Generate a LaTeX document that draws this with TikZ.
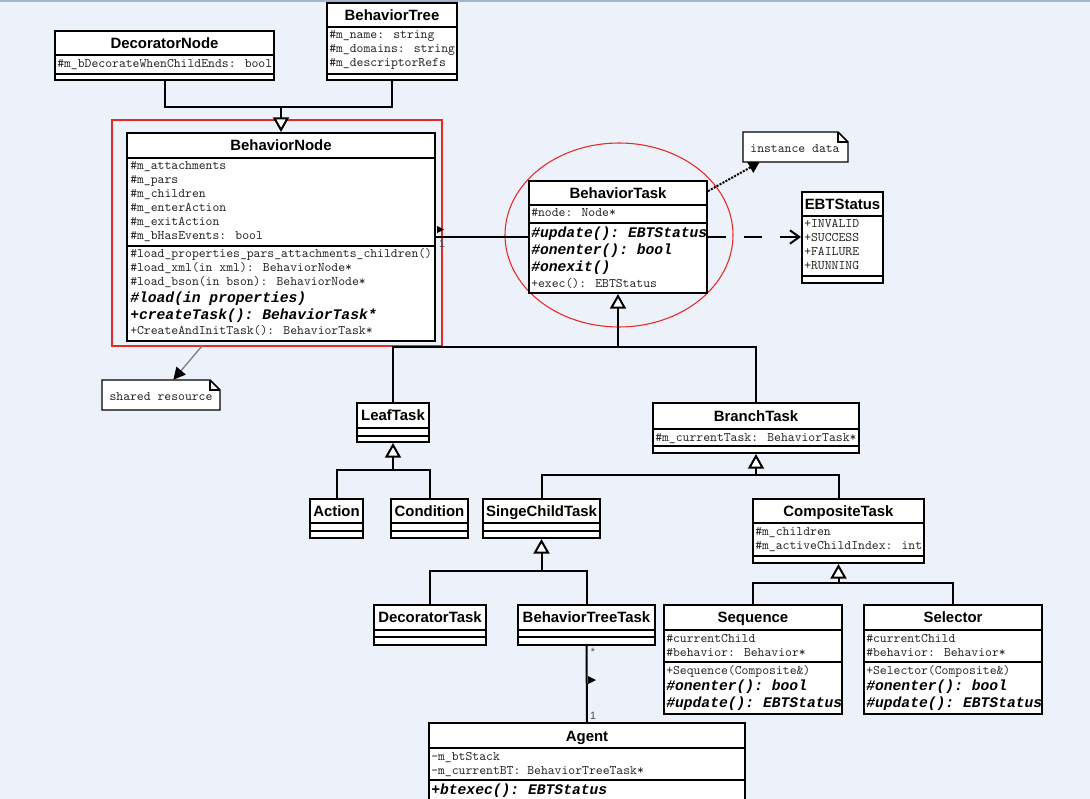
\documentclass[tikz,border=0pt]{standalone}
\usepackage{fontspec}
\setmainfont{Liberation Sans}
\setmonofont{Liberation Mono}
\newfontfamily\courfont{Latin Modern Mono}
\usetikzlibrary{arrows.meta,fit,shapes.geometric}
\definecolor{bgc}{RGB}{237,241,249}
\definecolor{topc}{RGB}{165,180,205}
\definecolor{redc}{RGB}{232,40,40}
\tikzset{
  cls/.style={draw=black, line width=1.5pt, fill=white, inner sep=0pt},
  sepl/.style={line width=1.5pt},
  ttl/.style={font=\bfseries\fontsize{11.2}{13}\selectfont, text height=8pt, text depth=0pt, inner sep=0pt, anchor=center},
  att/.style={font=\courfont\fontsize{9.8}{11}\selectfont, text height=5.6pt, text depth=0pt, inner sep=0pt, anchor=west, text=black!85},
  absm/.style={font=\ttfamily\bfseries\itshape\fontsize{11}{13}\selectfont, text height=6.6pt, text depth=0pt, inner sep=0pt, anchor=west},
  conn/.style={line width=1.5pt},
  gen/.style={conn, -{Triangle[length=11pt,width=12pt,fill=white]}},
  notebox/.style={draw=black, fill=white, line width=1.1pt},
  mult/.style={font=\fontsize{8}{9}\selectfont, text=black!70, inner sep=0pt},
}
\begin{document}
\begin{tikzpicture}[x=0.75pt,y=-0.75pt]
\useasboundingbox (0,0) rectangle (1090,799);
\clip (0,0) rectangle (1090,799);
\fill[bgc] (0,0) rectangle (1090,799);
\draw[topc, line width=1.5pt] (0,0.8) -- (1090,0.8);

% red highlights
\node[draw=redc, line width=0.8pt, inner sep=0pt, fit={(112,120) (442,346)}] (hl) {};
\node[draw=redc, line width=0.8pt, ellipse, inner sep=0pt, minimum width=171pt, minimum height=138pt] (hlt) at (619,235) {};

% DecoratorNode
\node[cls, fit={(55,31) (274,80)}] (dn) {};
\draw[sepl] (55,55) -- (274,55) (55,74) -- (274,74);
\node[ttl] (dn-t) at (164.5,43) {DecoratorNode};
\node[att] (dn-a1) at (57,64) {\#m\_bDecorateWhenChildEnds: bool};

% BehaviorTree
\node[cls, fit={(327,3) (457,80)}] (btree) {};
\draw[sepl] (327,27) -- (457,27) (327,74) -- (457,74);
\node[ttl] (btree-t) at (392,15) {BehaviorTree};
\node[att] (btree-a1) at (329,35) {\#m\_name: string};
\node[att] (btree-a2) at (329,49) {\#m\_domains: string};
\node[att] (btree-a3) at (329,63) {\#m\_descriptorRefs};

% BehaviorNode
\node[cls, fit={(127,133) (435,341)}] (bn) {};
\draw[sepl] (127,158) -- (435,158) (127,246) -- (435,246);
\node[ttl] (bn-t) at (281,145.5) {BehaviorNode};
\node[att] (bn-a1) at (130,166) {\#m\_attachments};
\node[att] (bn-a2) at (130,180) {\#m\_pars};
\node[att] (bn-a3) at (130,194) {\#m\_children};
\node[att] (bn-a4) at (130,208) {\#m\_enterAction};
\node[att] (bn-a5) at (130,222) {\#m\_exitAction};
\node[att] (bn-a6) at (130,236) {\#m\_bHasEvents: bool};
\node[att] (bn-o1) at (130,254) {\#load\_properties\_pars\_attachments\_children()};
\node[att] (bn-o2) at (130,268) {\#load\_xml(in xml): BehaviorNode*};
\node[att] (bn-o3) at (130,282) {\#load\_bson(in bson): BehaviorNode*};
\node[absm] (bn-o4) at (130,298) {\#load(in properties)};
\node[absm] (bn-o5) at (130,315.5) {+createTask(): BehaviorTask*};
\node[att] (bn-o6) at (130,331) {+CreateAndInitTask(): BehaviorTask*};

% BehaviorTask
\node[cls, fit={(529,181) (707,293)}] (btask) {};
\draw[sepl] (529,205) -- (707,205) (529,223) -- (707,223);
\node[ttl] (btask-t) at (618,193) {BehaviorTask};
\node[att] (btask-a1) at (531,213) {\#node: Node*};
\node[absm] (btask-o1) at (531,233) {\#update(): EBTStatus};
\node[absm] (btask-o2) at (531,250) {\#onenter(): bool};
\node[absm] (btask-o3) at (531,267) {\#onexit()};
\node[att] (btask-o4) at (531,284) {+exec(): EBTStatus};

% EBTStatus
\node[cls, fit={(802,192) (883,283)}] (ebt) {};
\draw[sepl] (802,216) -- (883,216) (802,276) -- (883,276);
\node[ttl] (ebt-t) at (842.5,204) {EBTStatus};
\node[att] (ebt-a1) at (804,224) {+INVALID};
\node[att] (ebt-a2) at (804,238) {+SUCCESS};
\node[att] (ebt-a3) at (804,252) {+FAILURE};
\node[att] (ebt-a4) at (804,266) {+RUNNING};

% notes
\node[inner sep=0pt, fit={(743,132) (848,162)}] (inst) {};
\draw[notebox] (743,132) -- (838,132) -- (848,142) -- (848,162) -- (743,162) -- cycle;
\draw[line width=1pt] (838,132) -- (838,142) -- (848,142);
\node[att, anchor=center] (inst-t) at (795,149) {instance data};

\node[inner sep=0pt, fit={(102,380) (220,410)}] (sr) {};
\draw[notebox] (102,380) -- (210,380) -- (220,390) -- (220,410) -- (102,410) -- cycle;
\draw[line width=1pt] (210,380) -- (210,390) -- (220,390);
\node[att, anchor=center] (sr-t) at (161,397) {shared resource};

% LeafTask, Action, Condition
\node[cls, fit={(357,403) (429,442)}] (leaf) {};
\draw[sepl] (357,428) -- (429,428) (357,436) -- (429,436);
\node[ttl] (leaf-t) at (393,415.5) {LeafTask};

\node[cls, fit={(310,499) (363,538)}] (action) {};
\draw[sepl] (310,523) -- (363,523) (310,531) -- (363,531);
\node[ttl] (action-t) at (336.5,511) {Action};

\node[cls, fit={(391,499) (468,538)}] (cond) {};
\draw[sepl] (391,523) -- (468,523) (391,531) -- (468,531);
\node[ttl] (cond-t) at (429.5,511) {Condition};

% BranchTask
\node[cls, fit={(653,403) (859,453)}] (branch) {};
\draw[sepl] (653,429) -- (859,429) (653,446) -- (859,446);
\node[ttl] (branch-t) at (756,416) {BranchTask};
\node[att] (branch-a1) at (655,437.5) {\#m\_currentTask: BehaviorTask*};

% SingeChildTask
\node[cls, fit={(483,499) (600,538)}] (sct) {};
\draw[sepl] (483,523) -- (600,523) (483,531) -- (600,531);
\node[ttl] (sct-t) at (541.5,511) {SingeChildTask};

% CompositeTask
\node[cls, fit={(753,499) (924,563)}] (comp) {};
\draw[sepl] (753,523) -- (924,523) (753,556) -- (924,556);
\node[ttl] (comp-t) at (838.5,511) {CompositeTask};
\node[att] (comp-a1) at (755,532) {\#m\_children};
\node[att] (comp-a2) at (755,546) {\#m\_activeChildIndex: int};

% DecoratorTask, BehaviorTreeTask
\node[cls, fit={(374,605) (486,645)}] (dtask) {};
\draw[sepl] (374,630) -- (486,630) (374,637) -- (486,637);
\node[ttl] (dtask-t) at (430,617) {DecoratorTask};

\node[cls, fit={(518,605) (655,645)}] (bttask) {};
\draw[sepl] (518,630) -- (655,630) (518,637) -- (655,637);
\node[ttl] (bttask-t) at (586.5,617) {BehaviorTreeTask};

% Sequence
\node[cls, fit={(664,605) (842,714)}] (seq) {};
\draw[sepl] (664,630) -- (842,630) (664,662) -- (842,662);
\node[ttl] (seq-t) at (753,617.5) {Sequence};
\node[att] (seq-a1) at (666,639) {\#currentChild};
\node[att] (seq-a2) at (666,653) {\#behavior: Behavior*};
\node[att] (seq-o1) at (666,671) {+Sequence(Composite\&)};
\node[absm] (seq-o2) at (666,686) {\#onenter(): bool};
\node[absm] (seq-o3) at (666,703) {\#update(): EBTStatus};

% Selector
\node[cls, fit={(864,605) (1042,714)}] (sel) {};
\draw[sepl] (864,630) -- (1042,630) (864,662) -- (1042,662);
\node[ttl] (sel-t) at (953,617.5) {Selector};
\node[att] (sel-a1) at (866,639) {\#currentChild};
\node[att] (sel-a2) at (866,653) {\#behavior: Behavior*};
\node[att] (sel-o1) at (866,671) {+Selector(Composite\&)};
\node[absm] (sel-o2) at (866,686) {\#onenter(): bool};
\node[absm] (sel-o3) at (866,703) {\#update(): EBTStatus};

% Agent
\node[cls, fit={(429,723) (745,815)}] (agent) {};
\draw[sepl] (429,748) -- (745,748) (429,780) -- (745,780);
\node[ttl] (agent-t) at (587,736) {Agent};
\node[att] (agent-a1) at (431,757) {-m\_btStack};
\node[att] (agent-a2) at (431,771) {-m\_currentBT: BehaviorTreeTask*};
\node[absm] (agent-o1) at (431,790) {+btexec(): EBTStatus};

% generalizations
\coordinate (j1) at (281,107);
\draw[conn] (dn.south) |- (j1);
\draw[conn] (btree.south) |- (j1);
\draw[gen] (j1) -- (bn.north);

\coordinate (j2) at (618,347);
\draw[conn] (leaf.north) |- (j2) -| (branch.north);
\draw[gen] (j2) -- (btask.south);

\coordinate (j3) at (393,470);
\draw[conn] (action.north) |- (j3) -| (cond.north);
\draw[gen] (j3) -- (leaf.south);

\coordinate (j4) at (756,475);
\draw[conn] (sct.north) |- (j4) -| (comp.north);
\draw[gen] (j4) -- (branch.south);

\coordinate (j5) at (541.5,571);
\draw[conn] (dtask.north) |- (j5) -| (bttask.north);
\draw[gen] (j5) -- (sct.south);

\coordinate (j6) at (838.5,583);
\draw[conn] (seq.north) |- (j6) -| (sel.north);
\draw[gen] (j6) -- (comp.south);

% associations
\draw[conn] (bn.east) -- (btask.west);
\fill (437,226) -- (444,229.5) -- (437,233) -- cycle;
\node[mult] (m1) at (442,244) {1};

\draw[conn] (bttask.south) -- (agent.north);
\fill (588,676) -- (596,680) -- (588,684) -- cycle;
\node[mult] (m2) at (593,652) {*};
\node[mult] (m3) at (593,716) {1};

% dependency
\draw[conn, dash pattern=on 13.5pt off 13.5pt, -{Straight Barb[length=7pt,width=10pt]}] (btask.east) -- (btask.east -| ebt.west);

% note links
\draw[line width=1.5pt, densely dotted, -{Triangle[length=8pt,width=9pt]}] (btask.27) -- (inst.203);
\coordinate (rs) at (202,346);
\draw[gray, line width=1pt, -{Triangle[length=9pt,width=9pt,color=black]}] (rs) -- (sr.51);
\end{tikzpicture}
\end{document}
